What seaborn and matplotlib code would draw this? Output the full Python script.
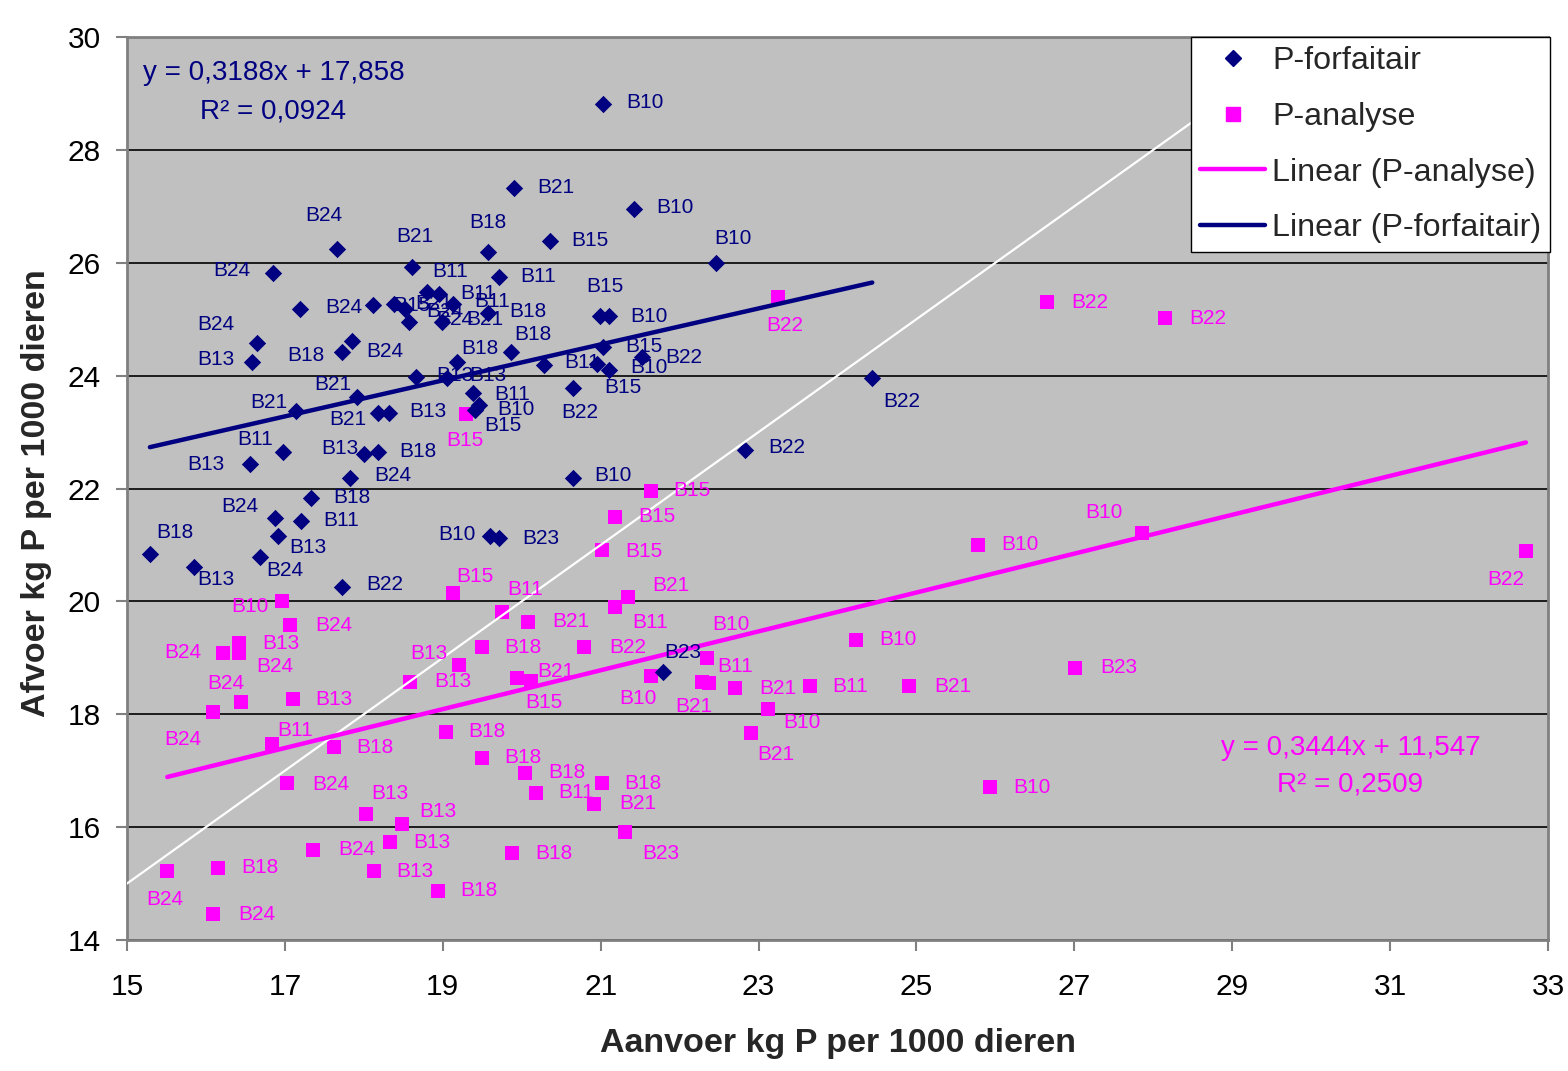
import numpy as np
import pandas as pd
import matplotlib
matplotlib.use("Agg")
import matplotlib.pyplot as plt
from matplotlib.lines import Line2D
import seaborn as sns

# ---------------- data ----------------
# P-forfaitair (navy diamonds)
forf_x = [21.03, 19.90, 21.42, 17.66, 20.36, 19.57, 22.46, 16.85, 18.61, 19.71,
          17.19, 18.12, 18.38, 18.52, 18.57, 18.80, 18.95, 18.99, 19.13, 19.57,
          20.99, 21.11, 16.65, 16.58, 17.72, 17.85, 19.86, 19.18, 21.03, 21.52,
          20.28, 20.95, 21.11, 18.66, 19.05, 20.65, 19.38, 19.46, 19.41, 17.14,
          17.91, 18.18, 18.32, 16.98, 16.56, 18.00, 18.18, 17.82, 17.33, 16.87,
          17.20, 16.91, 15.29, 15.85, 16.68, 17.72, 20.65, 22.83, 24.44, 19.60,
          19.71, 21.79]
forf_y = [28.81, 27.32, 26.95, 26.24, 26.39, 26.19, 26.00, 25.82, 25.92, 25.75,
          25.18, 25.25, 25.27, 25.18, 24.95, 25.48, 25.45, 24.95, 25.27, 25.11,
          25.06, 25.06, 24.58, 24.24, 24.42, 24.61, 24.42, 24.24, 24.51, 24.33,
          24.19, 24.21, 24.10, 23.98, 23.96, 23.78, 23.69, 23.48, 23.39, 23.37,
          23.62, 23.34, 23.34, 22.65, 22.43, 22.61, 22.65, 22.19, 21.83, 21.48,
          21.42, 21.16, 20.84, 20.61, 20.79, 20.26, 22.19, 22.68, 23.96, 21.16,
          21.12, 18.75]
forf_lab = ["B10", "B21", "B10", "B24", "B15", "B18", "B10", "B24", "B21", "B11",
            "B24", "B15", "B21", "B24", "B24", "B11", "B11", "B21", "B11", "B18",
            "B15", "B10", "B24", "B13", "B18", "B24", "B18", "B18", "B15", "B22",
            "B11", "B15", "B10", "B13", "B13", "B22", "B11", "B10", "B15", "B21",
            "B21", "B21", "B13", "B11", "B13", "B13", "B18", "B24", "B18", "B24",
            "B11", "B13", "B18", "B13", "B24", "B22", "B10", "B22", "B22", "B10",
            "B23", "B23"]

# P-analyse (magenta squares)
anal_x = [16.96, 17.06, 16.42, 16.42, 16.22, 16.44, 16.09, 17.10, 16.84, 17.62,
          17.03, 18.03, 18.48, 18.33, 17.36, 18.13, 15.51, 16.15, 16.09, 19.04,
          19.50, 20.04, 21.02, 20.18, 20.92, 21.31, 19.88, 18.94, 19.29, 21.64,
          21.18, 21.02, 19.13, 19.75, 20.08, 21.35, 21.18, 19.50, 20.79, 19.94,
          20.12, 18.59, 19.21, 21.64, 22.35, 22.28, 22.37, 22.70, 23.65, 24.91,
          23.12, 22.90, 24.24, 25.78, 27.86, 32.72, 27.01, 25.93, 26.65, 28.15,
          23.25]
anal_y = [20.01, 19.58, 19.26, 19.09, 19.09, 18.22, 18.04, 18.27, 17.47, 17.42,
          16.78, 16.23, 16.06, 15.74, 15.60, 15.22, 15.22, 15.28, 14.46, 17.69,
          17.23, 16.96, 16.78, 16.61, 16.41, 15.91, 15.54, 14.87, 23.32, 21.96,
          21.50, 20.91, 20.15, 19.81, 19.64, 20.08, 19.90, 19.19, 19.19, 18.64,
          18.59, 18.57, 18.87, 18.68, 19.00, 18.57, 18.55, 18.47, 18.50, 18.50,
          18.09, 17.67, 19.32, 21.00, 21.21, 20.89, 18.82, 16.71, 25.30, 25.02,
          25.39]
anal_lab = ["B10", "B24", "B13", "B24", "B24", "B24", "B24", "B13", "B11", "B18",
            "B24", "B13", "B13", "B13", "B24", "B13", "B24", "B18", "B24", "B18",
            "B18", "B18", "B18", "B11", "B21", "B23", "B18", "B18", "B15", "B15",
            "B15", "B15", "B15", "B11", "B21", "B21", "B11", "B18", "B22", "B21",
            "B15", "B13", "B13", "B10", "B10", "B21", "B11", "B21", "B11", "B21",
            "B10", "B21", "B10", "B10", "B10", "B22", "B23", "B10", "B22", "B22",
            "B22"]

# trendline coefficients and their equation texts
forf_coef = (0.3188, 17.858)
anal_coef = (0.3444, 11.547)
forf_eq = ["y = 0,3188x + 17,858", "R² = 0,0924"]
anal_eq = ["y = 0,3444x + 11,547", "R² = 0,2509"]
diag_range = [15, 30]  # y = x reference line

series_names = ["P-forfaitair", "P-analyse", "Linear (P-analyse)", "Linear (P-forfaitair)"]
x_ticks = list(range(15, 34, 2))
y_ticks = list(range(14, 31, 2))
x_title = "Aanvoer kg P per 1000 dieren"
y_title = "Afvoer kg P per 1000 dieren"

# ---------------- label layout (pixel offsets of the data labels) ----------------
forf_off = [(42, 2), (42, 1), (41, 2), (-13, 34), (40, 0), (0, 30), (17, 24), (-41, 2), (3, 31), (39, 0),
            (44, 2), (39, 0), (40, 0), (40, -2), (46, 3), (23, 21), (39, 0), (43, 3), (39, 2), (40, 1),
            (5, 29), (40, -1), (-41, 18), (-36, 3), (-36, -4), (33, -10), (22, 17), (23, 14), (41, 0), (42, 0),
            (38, 2), (26, -24), (40, 2), (39, 1), (41, 2), (7, -24), (39, -1), (37, -5), (28, -15), (-27, 9),
            (-24, 13), (-30, -7), (39, 1), (-28, 12), (-44, 0), (-24, 6), (40, 0), (43, 2), (41, 1), (-35, 11),
            (40, 1), (30, -12), (25, 21), (22, -13), (25, -14), (43, 2), (40, 2), (42, 3), (30, -24), (-33, 1),
            (42, 0), (20, 19)]
anal_off = [(-32, -6), (44, 0), (42, 0), (36, -14), (-40, 0), (-15, 18), (-30, -28), (41, 0), (23, 14), (41, -1),
            (44, -1), (24, 21), (36, 12), (42, -1), (44, 0), (41, 0), (-2, -28), (42, 0), (44, 0), (41, 0),
            (41, 0), (42, 0), (41, 0), (40, 0), (43, 0), (36, -21), (42, 0), (41, 0), (-1, -26), (41, 0),
            (42, 0), (42, -1), (22, 16), (23, 23), (43, 0), (43, 11), (35, -15), (41, 0), (44, 0), (39, 7),
            (13, -22), (42, 1), (-30, 12), (-13, -23), (24, 33), (-8, -24), (26, 17), (43, -1), (40, 0), (43, 0),
            (34, -13), (25, -22), (41, 0), (42, 0), (-38, 21), (-20, -28), (44, 0), (42, 0), (43, 0), (43, 0),
            (6, -28)]

NAVY = "#000080"
MAGENTA = "#FF00FF"

sns.set_theme(style="white")
plt.rcParams['font.family'] = ['Liberation Sans', 'DejaVu Sans']

W, H = 1568, 1071
fig = plt.figure(figsize=(W / 100, H / 100), dpi=100)
ax = fig.add_axes([127 / W, 1 - 940 / H, 1421 / W, 903 / H])
ax.set_facecolor("#C0C0C0")

df_f = pd.DataFrame({"x": forf_x, "y": forf_y, "lab": forf_lab})
df_a = pd.DataFrame({"x": anal_x, "y": anal_y, "lab": anal_lab})

sns.scatterplot(data=df_a, x="x", y="y", marker="s", s=112, color=MAGENTA,
                linewidth=0, ax=ax, zorder=3, legend=False)
sns.scatterplot(data=df_f, x="x", y="y", marker="D", s=78, color=NAVY,
                linewidth=0, ax=ax, zorder=3, legend=False)

# y = x reference line
sns.lineplot(x=diag_range, y=diag_range, color="white", lw=1.6, ax=ax, zorder=4)

# trendlines over each series' data range
xf = np.array([min(forf_x), max(forf_x)])
xa = np.array([min(anal_x), max(anal_x)])
sns.lineplot(x=xf, y=forf_coef[0] * xf + forf_coef[1], color=NAVY, lw=3.2, ax=ax, zorder=4)
sns.lineplot(x=xa, y=anal_coef[0] * xa + anal_coef[1], color=MAGENTA, lw=3.2, ax=ax, zorder=4)

# data labels
for df, offs, col in ((df_a, anal_off, MAGENTA), (df_f, forf_off, NAVY)):
    for (xi, yi, lab), (dx, dy) in zip(df[["x", "y", "lab"]].itertuples(index=False), offs):
        ax.annotate(lab, (xi, yi), xytext=(dx, dy), textcoords="offset pixels",
                    ha="center", va="center", fontsize=15, color=col, zorder=5)

# equation texts
ax.text(0.103, 0.960, forf_eq[0], transform=ax.transAxes, ha="center", va="center",
        fontsize=20, color=NAVY, zorder=6)
ax.text(0.103, 0.917, forf_eq[1], transform=ax.transAxes, ha="center", va="center",
        fontsize=20, color=NAVY, zorder=6)
ax.text(0.861, 0.213, anal_eq[0], transform=ax.transAxes, ha="center", va="center",
        fontsize=20, color=MAGENTA, zorder=6)
ax.text(0.861, 0.172, anal_eq[1], transform=ax.transAxes, ha="center", va="center",
        fontsize=20, color=MAGENTA, zorder=6)

# axes
ax.set_xlim(15, 33)
ax.set_ylim(14, 30)
ax.set_xticks(x_ticks)
ax.set_yticks(y_ticks)
ax.yaxis.grid(True, color="black", lw=1.2)
ax.xaxis.grid(False)
ax.set_axisbelow(True)
for sp in ax.spines.values():
    sp.set_color("#808080")
    sp.set_linewidth(2)
ax.tick_params(axis="both", direction="out", length=8, width=1.5, color="#808080",
               labelsize=21.5, labelcolor="black", bottom=True, left=True)
ax.tick_params(axis="x", pad=16)
ax.tick_params(axis="y", pad=11)

ax.set_xlabel(x_title, fontsize=24.5, fontweight="bold")
ax.set_ylabel(y_title, fontsize=24.5, fontweight="bold")
ax.xaxis.set_label_coords(0.5, -0.097)
ax.yaxis.set_label_coords(-0.053, 0.495)

handles = [
    Line2D([], [], marker="D", ls="none", color=NAVY, markersize=8.2),
    Line2D([], [], marker="s", ls="none", color=MAGENTA, markersize=10),
    Line2D([], [], color=MAGENTA, lw=3.2),
    Line2D([], [], color=NAVY, lw=3.2),
]
leg = ax.legend(handles, series_names, loc="upper right", bbox_to_anchor=(1.0015, 1.0),
                fontsize=23.2, frameon=True, fancybox=False, edgecolor="black",
                facecolor="white", framealpha=1, borderpad=0.28, labelspacing=0.8,
                handlelength=2.0, handletextpad=0.22, borderaxespad=0)
leg.get_frame().set_linewidth(1.0)
leg.set_zorder(10)

fig.savefig("out.png", dpi=100)
